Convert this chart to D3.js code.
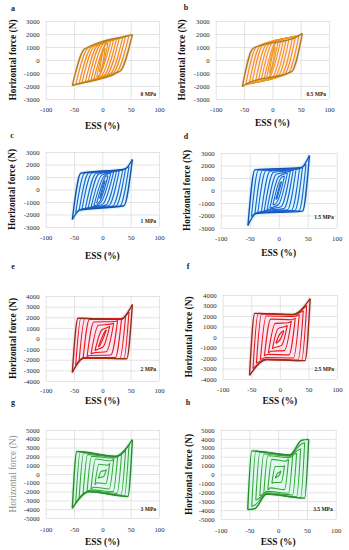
<!DOCTYPE html>
<html>
<head>
<meta charset="utf-8">
<script src="https://cdn.jsdelivr.net/npm/d3@7"></script>
<style>
body { margin: 0; background: #fff; }
text { font-family: "Liberation Serif", "DejaVu Serif", serif; }
.tick text { font-size: 6.8px; fill: #2a2a2a; }
.grid line { stroke: #d9d9d9; stroke-width: 0.7; }
.axis-label { font-size: 9.4px; font-weight: bold; fill: #111; }
.panel-letter { font-size: 8px; font-weight: bold; fill: #222; }
.pressure { font-size: 5.5px; font-weight: bold; fill: #222; }
</style>
</head>
<body>
<div id="chart"></div>
<script>
// Panel letters, pressure tags and axis ticks.
const panelLetters = ["a", "b", "c", "d", "e", "f", "g", "h"];
const pressureLabels = ["0 MPa", "0.5 MPa", "1 MPa", "1.5 MPa", "2 MPa", "2.5 MPa", "3 MPa", "3.5 MPa"];
const essTicks = [-100, -50, 0, 50, 100];
const forceTicks3 = [-3000, -2000, -1000, 0, 1000, 2000, 3000];
const forceTicks4 = [-4000, -3000, -2000, -1000, 0, 1000, 2000, 3000, 4000];
const forceTicks5 = [-5000, -4000, -3000, -2000, -1000, 0, 1000, 2000, 3000, 4000, 5000];
const panelTicks = [forceTicks3, forceTicks3, forceTicks3, forceTicks3, forceTicks4, forceTicks4, forceTicks5, forceTicks5];

// Hysteresis loops, one row per panel, one entry per cycle.
// amplitude (ESS %), peak force (N), knee of the loading branch, start of hardening.
const loopAmp = [
    [5, 10, 15, 20, 25, 30, 36, 41, 47, 53],
    [5, 10, 15, 20, 25, 30, 36, 41, 47, 53],
    [5, 10, 15, 20, 25, 30, 36, 41, 47, 53],
    [5, 10, 15, 20, 25, 30, 36, 41, 47, 53],
    [7, 13, 20, 27, 34, 41, 47, 53],
    [7, 13, 20, 27, 34, 41, 47, 53],
    [7, 13, 20, 27, 34, 41, 47, 53],
    [5, 11, 18, 25, 32, 39, 46, 53]
];
const loopPeak = [
    [900, 1300, 1490, 1560, 1620, 1680, 1750, 1810, 1890, 1960],
    [1000, 1350, 1550, 1630, 1680, 1730, 1790, 1840, 1900, 2050],
    [700, 1100, 1300, 1420, 1480, 1530, 1580, 1650, 1850, 2400],
    [700, 1150, 1400, 1550, 1650, 1720, 1780, 1850, 2100, 2800],
    [800, 1150, 1450, 1700, 1900, 2100, 2500, 3200],
    [600, 1100, 1500, 1800, 2150, 2500, 3000, 3650],
    [500, 1200, 1700, 2000, 2300, 2700, 3300, 3900],
    [400, 1000, 1700, 2100, 2400, 2900, 3600, 3950]
];
const kneeDx = [
    [6, 13, 21.7, 21.7, 21.7, 21.7, 21.7, 21.7, 21.7, 21.7],
    [6, 13, 19, 19, 19, 19, 19, 19, 19, 19],
    [6, 12, 17, 19, 19, 19, 18, 17, 16, 15],
    [6, 11, 15, 16, 16, 15, 14, 13, 12, 12],
    [8, 12, 13, 12, 11, 10, 9, 10],
    [6, 10, 12, 11, 10, 9, 9, 9],
    [5, 7, 8, 8, 8, 8, 8, 8],
    [4, 6, 7, 7, 7, 7, 7, 7]
];
const kneeForce = [
    [600, 950, 1310, 1250, 1190, 1130, 1050, 990, 920, 850],
    [600, 1000, 1300, 1280, 1230, 1170, 1110, 1060, 1000, 900],
    [300, 700, 1000, 1150, 1250, 1300, 1320, 1330, 1320, 1300],
    [300, 750, 1100, 1300, 1450, 1550, 1580, 1600, 1620, 1650],
    [300, 800, 1250, 1550, 1800, 1880, 1900, 1900],
    [200, 800, 1300, 1700, 2000, 2200, 2250, 2250],
    [300, 1100, 1700, 2000, 2200, 2400, 2500, 2550],
    [150, 900, 1700, 2100, 2300, 2500, 2600, 2650]
];
const hardDx = [
    [1, 3, 3, 3, 3, 3, 3, 3, 3, 3],
    [1, 4, 6, 8, 8, 8, 8, 8, 8, 8],
    [2, 4, 5, 5, 5, 5, 5, 6, 9, 13],
    [2, 4, 4, 5, 5, 5, 5, 6, 8, 14],
    [2, 3, 5, 5, 6, 8, 14, 21],
    [3, 4, 5, 6, 10, 18, 24, 30],
    [2, 4, 5, 7, 11, 17, 24, 29],
    [2, 2.5, 4, 5, 10, 19, 26, 33]
];
const hardForce = [
    [880, 1250, 1455, 1520, 1580, 1640, 1710, 1770, 1850, 1925],
    [950, 1300, 1520, 1550, 1600, 1650, 1710, 1760, 1820, 1820],
    [650, 1050, 1250, 1370, 1430, 1480, 1520, 1550, 1600, 1650],
    [650, 1100, 1350, 1480, 1580, 1650, 1700, 1750, 1800, 1850],
    [700, 1050, 1350, 1600, 1800, 1850, 1850, 1800],
    [500, 1000, 1350, 1650, 1950, 2100, 2150, 2150],
    [400, 1000, 1500, 1800, 1900, 2000, 2000, 2000],
    [300, 900, 1500, 1900, 2050, 2150, 2200, 2200]
];
// Flat cap near the peak, only seen at 3.5 MPa.
const capDx = [[], [], [], [], [], [], [], [1, 1, 1.5, 2, 3, 4, 6, 12]];
const capForce = [[], [], [], [], [], [], [], [380, 970, 1650, 2050, 2300, 2750, 3400, 3850]];

// Panel frames on the page.
const frames = [
    { left: 45.7, right: 159, top: 21, bottom: 99, lx: 13, ly: 8, yl: 13, essY: 126, pad: 8.5, py: 94 },
    { left: 215.7, right: 329, top: 21, bottom: 99, lx: 186, ly: 7, yl: 182, essY: 123, pad: 8.5, py: 94 },
    { left: 45.7, right: 159, top: 152, bottom: 227, lx: 12, ly: 135, yl: 12, essY: 256, pad: 8, py: 221 },
    { left: 220.7, right: 336.7, top: 153, bottom: 228, lx: 186, ly: 136, yl: 187, essY: 253, pad: 8, py: 217 },
    { left: 45.7, right: 159, top: 296, bottom: 381, lx: 13, ly: 266, yl: 12.5, essY: 401, pad: 7, py: 369 },
    { left: 222.7, right: 337, top: 295, bottom: 379, lx: 188, ly: 266, yl: 189, essY: 401, pad: 8, py: 369 },
    { left: 45.7, right: 159, top: 430, bottom: 518, lx: 13, ly: 402, yl: 12.5, essY: 542, pad: 9, py: 509 },
    { left: 220.7, right: 335.7, top: 430, bottom: 519, lx: 188, ly: 402, yl: 189, essY: 542, pad: 9, py: 509 }
];
const outerColors = ["#a8841a", "#a3821c", "#1f4ea6", "#1e50ae", "#8a3414", "#8a3414", "#2c882c", "#2c882c"];
const innerColors = ["#ec8c14", "#f0951c", "#1e66cf", "#1a64d4", "#e51a1a", "#e21818", "#38a838", "#36a636"];
const tintColors = ["#fde6f0", "#fde0ee", "#c4f1fa", "#bff0fb", "#fcd6ec", "#fcd2ea", "#c9f5e2", "#c9f5e2"];

const svg = d3.select("#chart")
    .append("svg")
    .attr("width", 349)
    .attr("height", 550);

svg.append("rect").attr("width", 349).attr("height", 550).attr("fill", "#fff");

frames.forEach(function(f, p) {
    const xScale = d3.scaleLinear().domain([-100, 100]).range([f.left, f.right]);
    const yMax = d3.max(panelTicks[p]);
    const yScale = d3.scaleLinear().domain([-yMax, yMax]).range([f.bottom, f.top]);
    const g = svg.append("g");

    // Gridlines and tick labels.
    g.append("g")
        .attr("class", "grid")
        .attr("transform", `translate(${f.left},0)`)
        .call(d3.axisLeft(yScale).tickValues(panelTicks[p]).tickSize(-(f.right - f.left))
            .tickPadding(6).tickFormat(d => String(d)))
        .call(s => s.select(".domain").remove());
    g.append("g")
        .attr("class", "grid")
        .attr("transform", `translate(0,${f.bottom})`)
        .call(d3.axisBottom(xScale).tickValues(essTicks).tickSize(-(f.bottom - f.top))
            .tickPadding(f.pad).tickFormat(d => String(d)))
        .call(s => s.select(".domain").remove());

    const line = d3.line()
        .x(d => xScale(d[0]))
        .y(d => yScale(d[1]))
        .curve(d3.curveMonotoneX);

    // Build the loading branch of each cycle; the unloading branch is its point reflection.
    const loops = loopAmp[p].map(function(A, i) {
        const up = [[-A, -loopPeak[p][i]], [-A + kneeDx[p][i], kneeForce[p][i]], [A - hardDx[p][i], hardForce[p][i]]];
        if (capDx[p].length) up.push([A - capDx[p][i], capForce[p][i]]);
        up.push([A, loopPeak[p][i]]);
        const down = up.map(d => [-d[0], -d[1]]).reverse();
        return { up: up, down: down };
    });

    // Light halo behind the outer loop.
    const outer = loops[loops.length - 1];
    g.append("path")
        .attr("d", line(outer.up) + line(outer.down))
        .attr("fill", tintColors[p])
        .attr("fill-opacity", 0.6)
        .attr("stroke", tintColors[p])
        .attr("stroke-width", 4)
        .attr("stroke-opacity", 0.6);

    loops.forEach(function(l, i) {
        const last = i === loops.length - 1;
        [l.up, l.down].forEach(function(branch) {
            g.append("path")
                .attr("d", line(branch))
                .attr("fill", "none")
                .attr("stroke", last ? outerColors[p] : innerColors[p])
                .attr("stroke-width", last ? 1.4 : 1.1);
        });
    });

    // Pressure tag.
    g.append("text")
        .attr("class", "pressure")
        .attr("x", f.right - 3)
        .attr("y", f.py)
        .attr("dy", "0.35em")
        .attr("text-anchor", "end")
        .text(pressureLabels[p]);

    // Panel letter.
    g.append("text")
        .attr("class", "panel-letter")
        .attr("x", f.lx)
        .attr("y", f.ly)
        .attr("dy", "0.35em")
        .attr("text-anchor", "middle")
        .text(panelLetters[p]);

    // Axis titles.
    g.append("text")
        .attr("class", "axis-label")
        .attr("x", (f.left + f.right) / 2)
        .attr("y", f.essY)
        .attr("dy", "0.35em")
        .attr("text-anchor", "middle")
        .text("ESS (%)");

    const yTitle = g.append("text")
        .attr("class", "axis-label")
        .attr("transform", `translate(${f.yl},${(f.top + f.bottom) / 2}) rotate(-90)`)
        .attr("dy", "0.35em")
        .attr("text-anchor", "middle")
        .text("Horizontal force (N)");
    if (p === 6) {
        yTitle.style("font-weight", "normal").style("fill", "#8a8a8a");
    }
});
</script>
</body>
</html>
